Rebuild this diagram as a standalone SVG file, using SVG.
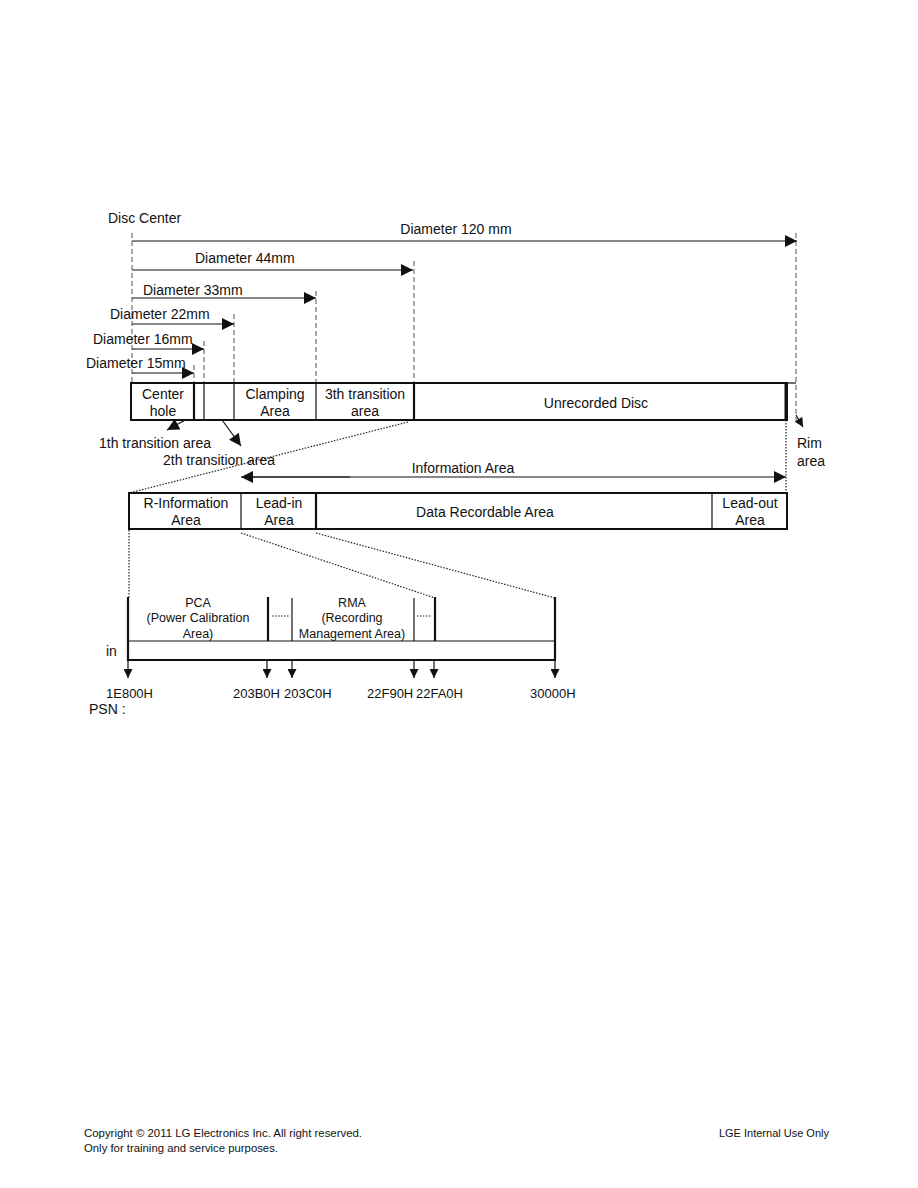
<svg xmlns="http://www.w3.org/2000/svg" width="918" height="1188" viewBox="0 0 918 1188">
<defs>
<marker id="ah" viewBox="0 0 10 10" refX="10" refY="5" markerWidth="13" markerHeight="12" markerUnits="userSpaceOnUse" orient="auto"><path d="M0,0 L10,5 L0,10 z" fill="#111"/></marker>
<marker id="as" viewBox="0 0 10 10" refX="10" refY="5" markerWidth="10" markerHeight="9" markerUnits="userSpaceOnUse" orient="auto"><path d="M0,0 L10,5 L0,10 z" fill="#111"/></marker>
<style>
text{font-family:"Liberation Sans",Arial,sans-serif;font-size:14px;fill:#111}
.m{text-anchor:middle}
.s{font-size:12.5px}
.h{font-size:13px}
.f{font-size:11px}
.dash{stroke:#555;stroke-width:1;stroke-dasharray:5,3;fill:none}
.dot{stroke:#222;stroke-width:1.2;stroke-dasharray:1.5,1.5;fill:none}
.ln{stroke:#111;stroke-width:1.2;fill:none}
.bx{stroke:#111;stroke-width:2;fill:#fff}
.thk{stroke:#111;stroke-width:2.2;fill:none}
</style>
</defs>
<rect width="918" height="1188" fill="#fff"/>

<g id="guides">
<line class="dash" x1="132" y1="233" x2="132" y2="383"/>
<line class="dash" x1="796" y1="233" x2="796" y2="420"/>
<line class="dash" x1="414" y1="261" x2="414" y2="383"/>
<line class="dash" x1="316" y1="291" x2="316" y2="383"/>
<line class="dash" x1="234" y1="314" x2="234" y2="383"/>
<line class="dash" x1="204" y1="341" x2="204" y2="383"/>
<line class="dash" x1="194" y1="365" x2="194" y2="383"/>
</g>

<g id="labels-top">
<text x="108" y="223">Disc Center</text>
<text x="456" y="234" class="m">Diameter 120 mm</text>
<text x="195" y="263">Diameter 44mm</text>
<text x="143" y="295">Diameter 33mm</text>
<text x="110" y="319">Diameter 22mm</text>
<text x="93" y="344">Diameter 16mm</text>
<text x="86" y="368">Diameter 15mm</text>
</g>

<g id="connectors">
<line class="ln" x1="132" y1="241" x2="797" y2="241" marker-end="url(#ah)"/>
<line class="ln" x1="132" y1="270" x2="413" y2="270" marker-end="url(#ah)"/>
<line class="ln" x1="132" y1="298" x2="316" y2="298" marker-end="url(#ah)"/>
<line class="ln" x1="132" y1="324" x2="234" y2="324" marker-end="url(#ah)"/>
<line class="ln" x1="132" y1="349" x2="204" y2="349" marker-end="url(#ah)"/>
<line class="ln" x1="132" y1="373" x2="194" y2="373" marker-end="url(#ah)"/>
<line class="ln" x1="200" y1="412" x2="167" y2="430" marker-end="url(#ah)"/>
<line class="ln" x1="217" y1="413" x2="241" y2="446" marker-end="url(#ah)"/>
<line class="ln" x1="796" y1="415" x2="803" y2="427" marker-end="url(#as)"/>
<line class="ln" x1="250" y1="477" x2="786" y2="477" marker-end="url(#ah)"/>
<line class="ln" x1="350" y1="477" x2="241" y2="477" marker-end="url(#ah)"/>
<line class="dot" x1="408" y1="422" x2="129" y2="493"/>
<line class="dot" x1="786" y1="420" x2="786" y2="493"/>
<line class="dot" x1="129" y1="530" x2="129" y2="597"/>
<line class="dot" x1="241" y1="533" x2="435" y2="598"/>
<line class="dot" x1="316" y1="533" x2="555" y2="598"/>
<line class="ln" x1="128" y1="660" x2="128" y2="678" marker-end="url(#as)"/>
<line class="ln" x1="267" y1="660" x2="267" y2="678" marker-end="url(#as)"/>
<line class="ln" x1="292" y1="660" x2="292" y2="678" marker-end="url(#as)"/>
<line class="ln" x1="414" y1="660" x2="414" y2="678" marker-end="url(#as)"/>
<line class="ln" x1="434" y1="660" x2="434" y2="678" marker-end="url(#as)"/>
<line class="ln" x1="555" y1="660" x2="555" y2="678" marker-end="url(#as)"/>
</g>

<g id="disc-bar">
<rect class="bx" x="131" y="383" width="656" height="37"/>
<line class="ln" x1="787" y1="383" x2="796" y2="383"/>
<line class="thk" x1="194" y1="383" x2="194" y2="420"/>
<line class="ln" x1="204" y1="383" x2="204" y2="420"/>
<line class="ln" x1="234" y1="383" x2="234" y2="420"/>
<line class="ln" x1="316" y1="383" x2="316" y2="420"/>
<line class="thk" x1="414" y1="383" x2="414" y2="420"/>
<line x1="786" y1="383" x2="786" y2="420" stroke="#111" stroke-width="3"/>
<text x="163" y="399" class="m">Center</text>
<text x="163" y="416" class="m">hole</text>
<text x="275" y="399" class="m">Clamping</text>
<text x="275" y="416" class="m">Area</text>
<text x="365" y="399" class="m">3th transition</text>
<text x="365" y="416" class="m">area</text>
<text x="596" y="408" class="m">Unrecorded Disc</text>
<text x="99" y="448">1th transition area</text>
<text x="163" y="465">2th transition area</text>
<text x="797" y="448">Rim</text>
<text x="797" y="466">area</text>
</g>

<g id="info-bar">
<text x="463" y="473" class="m">Information Area</text>
<rect class="bx" x="129" y="493" width="658" height="36"/>
<line class="ln" x1="241" y1="493" x2="241" y2="529"/>
<line class="thk" x1="316" y1="493" x2="316" y2="529"/>
<line class="ln" x1="712" y1="493" x2="712" y2="529"/>
<text x="186" y="508" class="m">R-Information</text>
<text x="186" y="525" class="m">Area</text>
<text x="279" y="508" class="m">Lead-in</text>
<text x="279" y="525" class="m">Area</text>
<text x="485" y="517" class="m">Data Recordable Area</text>
<text x="750" y="508" class="m">Lead-out</text>
<text x="750" y="525" class="m">Area</text>
</g>

<g id="psn-map">
<line class="thk" x1="128" y1="597" x2="128" y2="661"/>
<line class="thk" x1="268" y1="597" x2="268" y2="641"/>
<line class="ln" x1="292" y1="598" x2="292" y2="641"/>
<line class="ln" x1="414" y1="598" x2="414" y2="641"/>
<line class="thk" x1="435" y1="597" x2="435" y2="641"/>
<line class="thk" x1="555" y1="597" x2="555" y2="661"/>
<line class="ln" x1="128" y1="641" x2="555" y2="641"/>
<line class="thk" x1="127" y1="660" x2="556" y2="660"/>
<line class="dot" x1="272" y1="616" x2="289" y2="616" stroke-dasharray="2,2"/>
<line class="dot" x1="417" y1="616" x2="432" y2="616" stroke-dasharray="2,2"/>
<text x="198" y="607" class="m s">PCA</text>
<text x="198" y="622" class="m s">(Power Calibration</text>
<text x="198" y="638" class="m s">Area)</text>
<text x="352" y="607" class="m s">RMA</text>
<text x="352" y="622" class="m s">(Recording</text>
<text x="352" y="638" class="m s">Management Area)</text>
<text x="106" y="656">in</text>
<text x="106" y="698" class="h">1E800H</text>
<text x="233" y="698" class="h">203B0H</text>
<text x="284" y="698" class="h">203C0H</text>
<text x="367" y="698" class="h">22F90H</text>
<text x="416" y="698" class="h">22FA0H</text>
<text x="530" y="698" class="h">30000H</text>
<text x="89" y="714">PSN :</text>
</g>

<g id="footer">
<text x="84" y="1137" class="f" textLength="278" lengthAdjust="spacingAndGlyphs">Copyright © 2011 LG Electronics Inc. All right reserved.</text>
<text x="84" y="1152" class="f" textLength="194" lengthAdjust="spacingAndGlyphs">Only for training and service purposes.</text>
<text x="829" y="1137" class="f" text-anchor="end">LGE Internal Use Only</text>
</g>
</svg>
